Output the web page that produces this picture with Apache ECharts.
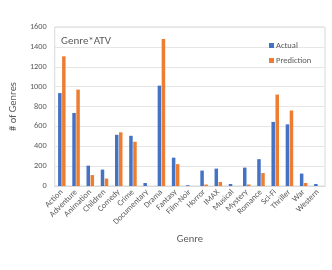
<!DOCTYPE html>
<html><head><meta charset="utf-8">
<script src="https://cdn.jsdelivr.net/npm/echarts@6/dist/echarts.min.js"></script>
<style>html,body{margin:0;padding:0;background:#fff}#c{width:332px;height:270px}</style>
</head><body><div id="c"></div>
<script>
const categories = ["Action","Adventure","Animation","Children","Comedy","Crime","Documentary","Drama","Fantasy","Film-Noir","Horror","IMAX","Musical","Mystery","Romance","Sci-Fi","Thriller","War","Western"];
const actual = [935,735,205,165,515,505,30,1010,285,8,155,175,20,185,270,645,620,125,20];
const prediction = [1305,970,110,75,540,445,0,1480,220,0,15,40,0,15,130,920,760,30,0];
const yTicks = [0,200,400,600,800,1000,1200,1400,1600];

const chart = echarts.init(document.getElementById('c'), null, {renderer:'canvas'});
const font = 'Calibri, Carlito, "Open Sans", "Liberation Sans", sans-serif';
chart.setOption({
  animation:false,
  textStyle:{fontFamily:font},
  title:{text:'Genre*ATV', left:56, top:31, textStyle:{fontSize:11, fontWeight:'normal', color:'#595959', fontFamily:font}},
  legend:{orient:'vertical', left:264, top:36, itemWidth:5, itemHeight:5, itemGap:6, icon:'rect',
    textStyle:{fontSize:8.5, color:'#595959', padding:[0,0,0,-3]}, data:['Actual','Prediction']},
  grid:{left:49, right:7, top:27, bottom:84, show:true, borderColor:'#d9d9d9', borderWidth:1},
  xAxis:{type:'category', data:categories, name:'Genre', nameLocation:'middle', nameGap:48,
    nameTextStyle:{fontSize:10.5, color:'#595959'},
    axisLine:{lineStyle:{color:'#d9d9d9'}}, axisTick:{show:false},
    axisLabel:{rotate:45, interval:0, fontSize:8.3, color:'#595959', margin:5}},
  yAxis:{type:'value', min:yTicks[0], max:yTicks[yTicks.length-1], interval:200, name:'# of Genres',
    nameLocation:'middle', nameGap:32, nameTextStyle:{fontSize:10.5, color:'#595959'},
    axisLabel:{fontSize:8.3, color:'#595959', margin:8, formatter:(v)=>String(v)},
    splitLine:{lineStyle:{color:'#e6e6e6'}}},
  series:[
    {name:'Actual', type:'bar', data:actual, barWidth:3.5, barGap:'15%', itemStyle:{color:'#4472C4'}},
    {name:'Prediction', type:'bar', data:prediction, barWidth:3.5, itemStyle:{color:'#ED7D31'}}
  ]
});
</script></body></html>
